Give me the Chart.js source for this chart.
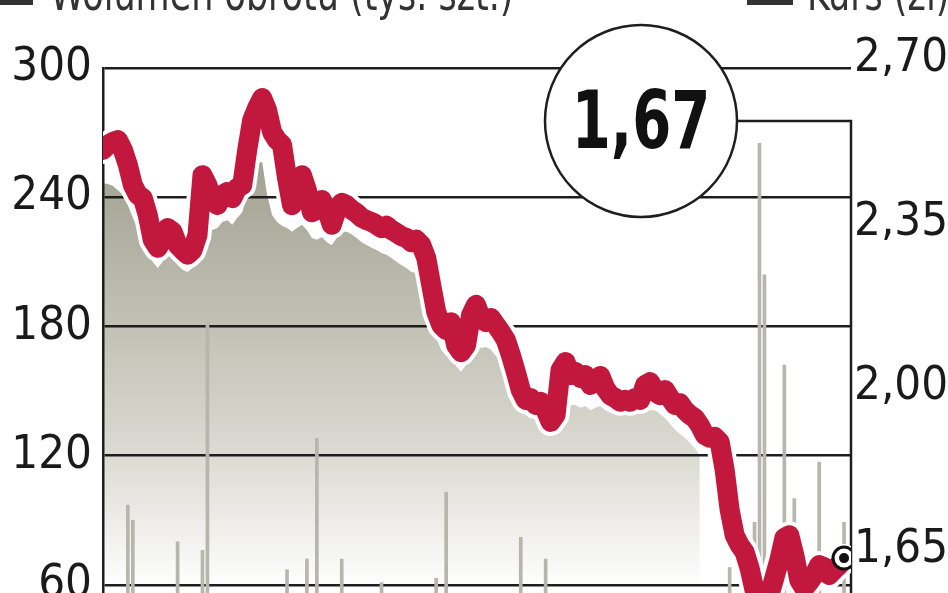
<!DOCTYPE html>
<html>
<head>
<meta charset="utf-8">
<script src="https://cdn.jsdelivr.net/npm/chart.js@4.4.0/dist/chart.umd.min.js"></script>
<style>
  html, body { margin: 0; padding: 0; background: #fff; overflow: hidden; }
  #wrap { width: 948px; height: 593px; overflow: hidden; }
</style>
</head>
<body>
<div id="wrap"><canvas id="chart" width="948" height="760"></canvas></div>
<script>
// closing price (zł), one point per session
const price = [
  2.505, 2.516, 2.522, 2.526, 2.505, 2.473, 2.430, 2.409, 2.402, 2.366,
  2.313, 2.296, 2.313, 2.338, 2.330, 2.302, 2.291, 2.281, 2.291, 2.323,
  2.451, 2.430, 2.398, 2.387, 2.409, 2.415, 2.402, 2.424, 2.430, 2.505,
  2.569, 2.595, 2.616, 2.590, 2.543, 2.526, 2.516, 2.445, 2.387, 2.430,
  2.451, 2.419, 2.372, 2.377, 2.398, 2.377, 2.345, 2.377, 2.392, 2.387,
  2.377, 2.370, 2.360, 2.355, 2.351, 2.345, 2.338, 2.343, 2.334, 2.328,
  2.321, 2.317, 2.308, 2.313, 2.302, 2.274, 2.216, 2.159, 2.131, 2.120,
  2.137, 2.088, 2.073, 2.088, 2.152, 2.174, 2.146, 2.137, 2.146, 2.131,
  2.116, 2.099, 2.067, 2.031, 1.992, 1.971, 1.975, 1.960, 1.967, 1.949,
  1.924, 1.939, 2.035, 2.052, 2.024, 2.031, 2.018, 2.024, 2.003, 2.014,
  2.022, 1.996, 1.981, 1.975, 1.967, 1.971, 1.967, 1.975, 1.971, 2.003,
  2.009, 1.988, 1.981, 1.992, 1.975, 1.960, 1.964, 1.949, 1.939, 1.932,
  1.917, 1.896, 1.890, 1.892, 1.881, 1.821, 1.736, 1.682, 1.661, 1.646,
  1.612, 1.565, 1.518, 1.526, 1.554, 1.591, 1.629, 1.676, 1.682, 1.640,
  1.586, 1.569, 1.582, 1.597, 1.618, 1.614, 1.597, 1.608, 1.618, 1.633
];

// grey background area (same price scale)
const shade = [
  2.434, 2.432, 2.428, 2.419, 2.409, 2.387, 2.360, 2.338, 2.323, 2.296,
  2.266, 2.253, 2.266, 2.287, 2.281, 2.259, 2.249, 2.244, 2.253, 2.281,
  2.366, 2.351, 2.334, 2.338, 2.351, 2.355, 2.345, 2.360, 2.372, 2.409,
  2.441, 2.477, 2.479, 2.409, 2.366, 2.351, 2.343, 2.338, 2.330, 2.338,
  2.345, 2.334, 2.317, 2.313, 2.319, 2.308, 2.302, 2.317, 2.330, 2.330,
  2.325, 2.317, 2.308, 2.302, 2.296, 2.291, 2.285, 2.281, 2.274, 2.266,
  2.259, 2.253, 2.244, 2.242, 2.236, 2.206, 2.159, 2.103, 2.078, 2.065,
  2.078, 2.043, 2.031, 2.046, 2.078, 2.088, 2.082, 2.084, 2.078, 2.065,
  2.052, 2.039, 2.014, 1.988, 1.960, 1.939, 1.939, 1.928, 1.928, 1.917,
  1.896, 1.902, 1.960, 1.971, 1.960, 1.960, 1.954, 1.958, 1.949, 1.954,
  1.958, 1.949, 1.943, 1.941, 1.939, 1.941, 1.941, 1.943, 1.943, 1.949,
  1.949, 1.949, 1.941, 1.932, 1.920, 1.907, 1.898, 1.890, 1.879, 1.868,
  1.853, null, null, null, null, null, null, null, null, null,
  null, null, null, null, null, null, null, null, null, null,
  null, null, null, null, null, null, null, null, null, null
];

// volume (thousand shares)
const volume = [
  22, 35, 18, 40, 28, 97, 90, 30, 15, 26,
  33, 20, 12, 45, 24, 80, 38, 19, 27, 50,
  76, 182, 41, 23, 16, 34, 29, 44, 21, 13,
  37, 25, 48, 30, 18, 22, 42, 67, 26, 31,
  14, 72, 36, 128, 20, 27, 39, 17, 72, 33,
  24, 46, 19, 28, 35, 15, 61, 30, 22, 40,
  26, 18, 43, 25, 31, 12, 29, 63, 38, 103,
  21, 34, 47, 16, 27, 40, 23, 30, 14, 36,
  44, 25, 19, 33, 82, 28, 41, 17, 24, 72,
  30, 38, 15, 49, 26, 22, 35, 43, 18, 29,
  37, 20, 31, 46, 14, 27, 39, 24, 33, 19,
  42, 28, 16, 35, 23, 47, 30, 21, 38, 26,
  44, 32, 25, 50, 37, 41, 68, 48, 35, 52,
  45, 89, 265, 204, 40, 53, 38, 162, 47, 100,
  36, 50, 43, 34, 117, 46, 39, 51, 42, 89
];

const volumeTicks = [0, 60, 120, 180, 240, 300];
const priceTicks = [1.65, 2.00, 2.35, 2.70];
const legendLabels = ['Wolumen obrotu (tys. szt.)', 'Kurs (zł)'];
const lastQuote = '1,67';

const FONT = "'Liberation Sans Narrow', 'DejaVu Sans Condensed', sans-serif";
const INK = '#1e1e1e';
const N = price.length;
const pts = arr => arr.map((v, i) => ({ x: i, y: v }));

const canvas = document.getElementById('chart');
const c2d = canvas.getContext('2d');
let shadeFill = c2d.createLinearGradient(0, 160, 0, 590);
shadeFill.addColorStop(0, '#a2a292');
shadeFill.addColorStop(0.4, '#c2c2b6');
shadeFill.addColorStop(0.7, '#dddcd5');
shadeFill.addColorStop(1, '#ffffff');

// narrow text: the fallback font is wider than the original one
function squeezedText(ctx, text, x, y, sx) {
  ctx.save();
  ctx.translate(x, y);
  ctx.scale(sx, 1);
  ctx.fillText(text, 0, 0);
  ctx.restore();
}

const extras = {
  id: 'extras',
  beforeDatasetsDraw(chart) {
    const { ctx, chartArea } = chart;
    // right frame, starts at the badge line
    ctx.save();
    ctx.strokeStyle = INK;
    ctx.lineWidth = 2.5;
    ctx.beginPath();
    ctx.moveTo(641, 121);
    ctx.lineTo(chartArea.right, 121);
    ctx.lineTo(chartArea.right, chartArea.bottom);
    ctx.stroke();
    ctx.restore();
  },
  afterDatasetsDraw(chart) {
    const ctx = chart.ctx;
    const meta = chart.getDatasetMeta(3);
    const last = meta.data[meta.data.length - 1];
    ctx.save();
    ctx.fillStyle = '#111';
    ctx.beginPath();
    ctx.arc(last.x, last.y, 5, 0, Math.PI * 2);
    ctx.fill();
    ctx.restore();
  },
  afterDraw(chart) {
    const ctx = chart.ctx;
    ctx.save();
    // legend, cut off at the top edge
    ctx.fillStyle = '#333';
    ctx.fillRect(0, -9, 33, 14);
    ctx.fillRect(747, -9, 46, 14);
    ctx.font = '48px ' + FONT;
    ctx.textBaseline = 'alphabetic';
    ctx.textAlign = 'left';
    squeezedText(ctx, legendLabels[0], 50, 10, 0.81);
    squeezedText(ctx, legendLabels[1], 807, 10, 0.81);
    // last quote badge
    ctx.beginPath();
    ctx.arc(641, 121, 96, 0, Math.PI * 2);
    ctx.fillStyle = '#fff';
    ctx.fill();
    ctx.lineWidth = 2.5;
    ctx.strokeStyle = INK;
    ctx.stroke();
    ctx.fillStyle = '#111';
    ctx.font = 'bold 80px ' + FONT;
    ctx.textAlign = 'center';
    squeezedText(ctx, lastQuote, 641, 148, 0.78);
    ctx.restore();
  }
};

new Chart(canvas, {
  data: {
    datasets: [
      {
        type: 'line', label: 'tło', data: pts(shade), yAxisID: 'price', order: 4,
        borderColor: 'transparent', borderWidth: 0, pointRadius: 0,
        fill: 'start', backgroundColor: shadeFill, spanGaps: false
      },
      {
        type: 'bar', label: legendLabels[0], data: pts(volume), yAxisID: 'y', order: 3,
        backgroundColor: '#b6b6ac', barThickness: 3
      },
      {
        type: 'line', label: 'obrys', data: pts(price), yAxisID: 'price', order: 2,
        borderColor: '#ffffff', borderWidth: 28, pointRadius: 0,
        borderJoinStyle: 'round', borderCapStyle: 'round', fill: false
      },
      {
        type: 'line', label: legendLabels[1], data: pts(price), yAxisID: 'price', order: 1,
        borderColor: '#c3183e', borderWidth: 20,
        borderJoinStyle: 'round', borderCapStyle: 'round', fill: false,
        pointRadius: ctx => ctx.dataIndex === N - 1 ? 11 : 0,
        pointBackgroundColor: '#fff', pointBorderColor: '#111', pointBorderWidth: 3
      }
    ]
  },
  options: {
    responsive: false,
    animation: false,
    layout: { padding: { top: 68, bottom: 46, left: 0, right: 0 } },
    plugins: {
      legend: { display: false },
      tooltip: { enabled: false },
      filler: { drawTime: 'beforeDraw' }
    },
    scales: {
      x: { type: 'linear', min: 0, max: 150.4, display: false, offset: false },
      y: {
        position: 'left', min: 0, max: 300,
        afterFit: s => { s.width = 103; },
        afterBuildTicks: s => { s.ticks = volumeTicks.map(v => ({ value: v })); },
        ticks: { padding: 11, color: '#1a1a1a', font: { family: FONT, size: 47 } },
        grid: { color: INK, lineWidth: 2.5, drawTicks: false },
        border: { color: INK, width: 2.5 }
      },
      price: {
        position: 'right', min: 1.30, max: 2.68,
        afterFit: s => { s.width = 97; },
        afterBuildTicks: s => { s.ticks = priceTicks.map(v => ({ value: v })); },
        ticks: {
          padding: 3, color: '#1a1a1a', font: { family: FONT, size: 47 },
          callback: v => v.toFixed(2).replace('.', ',')
        },
        grid: { display: false, drawTicks: false },
        border: { display: false }
      }
    }
  },
  plugins: [extras]
});
</script>
</body>
</html>
